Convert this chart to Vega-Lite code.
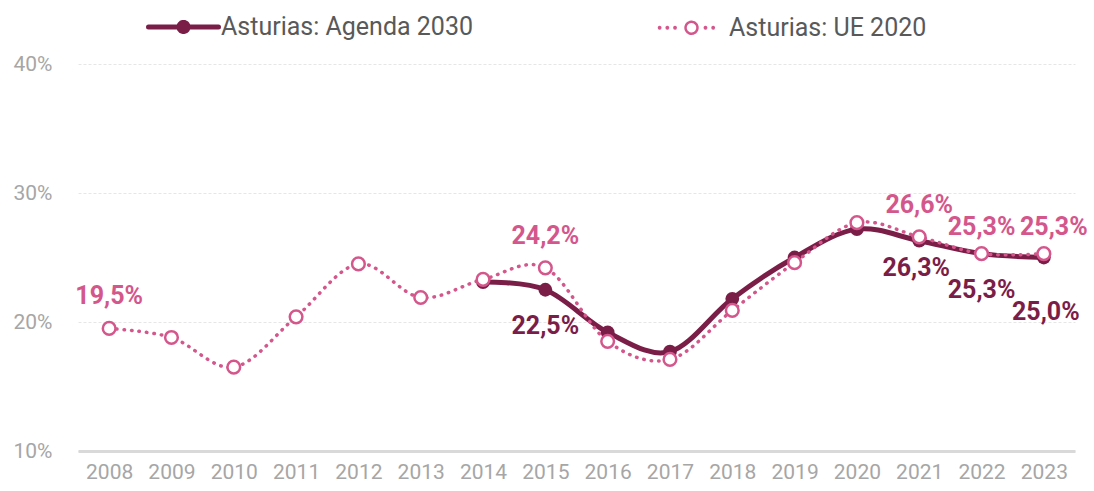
{
  "$schema": "https://vega.github.io/schema/vega-lite/v6.json",
  "width": 997,
  "height": 387,
  "autosize": {"type": "none"},
  "padding": {"left": 78, "top": 64, "right": 19, "bottom": 40},
  "background": "white",
  "config": {
    "locale": {"number": {"decimal": ",", "thousands": ".", "grouping": [3], "currency": ["", " €"]}},
    "view": {"stroke": null},
    "font": "Roboto"
  },
  "data": {"values": [
    {"year": "2008", "series": "Asturias: UE 2020", "value": 0.195},
    {"year": "2009", "series": "Asturias: UE 2020", "value": 0.188},
    {"year": "2010", "series": "Asturias: UE 2020", "value": 0.165},
    {"year": "2011", "series": "Asturias: UE 2020", "value": 0.204},
    {"year": "2012", "series": "Asturias: UE 2020", "value": 0.245},
    {"year": "2013", "series": "Asturias: UE 2020", "value": 0.219},
    {"year": "2014", "series": "Asturias: UE 2020", "value": 0.233},
    {"year": "2015", "series": "Asturias: UE 2020", "value": 0.242},
    {"year": "2016", "series": "Asturias: UE 2020", "value": 0.185},
    {"year": "2017", "series": "Asturias: UE 2020", "value": 0.171},
    {"year": "2018", "series": "Asturias: UE 2020", "value": 0.209},
    {"year": "2019", "series": "Asturias: UE 2020", "value": 0.246},
    {"year": "2020", "series": "Asturias: UE 2020", "value": 0.277},
    {"year": "2021", "series": "Asturias: UE 2020", "value": 0.266},
    {"year": "2022", "series": "Asturias: UE 2020", "value": 0.253},
    {"year": "2023", "series": "Asturias: UE 2020", "value": 0.253},
    {"year": "2014", "series": "Asturias: Agenda 2030", "value": 0.231},
    {"year": "2015", "series": "Asturias: Agenda 2030", "value": 0.225},
    {"year": "2016", "series": "Asturias: Agenda 2030", "value": 0.192},
    {"year": "2017", "series": "Asturias: Agenda 2030", "value": 0.177},
    {"year": "2018", "series": "Asturias: Agenda 2030", "value": 0.218},
    {"year": "2019", "series": "Asturias: Agenda 2030", "value": 0.250},
    {"year": "2020", "series": "Asturias: Agenda 2030", "value": 0.272},
    {"year": "2021", "series": "Asturias: Agenda 2030", "value": 0.263},
    {"year": "2022", "series": "Asturias: Agenda 2030", "value": 0.253},
    {"year": "2023", "series": "Asturias: Agenda 2030", "value": 0.250}
  ]},
  "encoding": {
    "x": {
      "field": "year", "type": "ordinal",
      "scale": {"type": "point", "padding": 0.5},
      "axis": {"title": null, "labelAngle": 0, "labelFontSize": 21, "labelColor": "#A6A6A6", "ticks": false, "domainColor": "#D9D9D9", "domainWidth": 3, "labelPadding": 10, "grid": false}
    },
    "y": {
      "field": "value", "type": "quantitative",
      "scale": {"domain": [0.1, 0.4]},
      "axis": {"title": null, "format": ".0%", "values": [0.1, 0.2, 0.3, 0.4], "domain": false, "ticks": false, "labelPadding": 26, "labelFontSize": 21, "labelColor": "#A6A6A6", "gridColor": "#E6E6E6", "gridDash": [3, 2]}
    }
  },
  "layer": [
    {
      "transform": [{"filter": "datum.series === 'Asturias: Agenda 2030'"}],
      "mark": {"type": "line", "interpolate": "cardinal", "strokeWidth": 5, "strokeCap": "round"},
      "encoding": {
        "stroke": {
          "field": "series", "type": "nominal",
          "scale": {"domain": ["Asturias: Agenda 2030", "Asturias: UE 2020"], "range": ["#7A1E48", "#D4578C"]},
          "legend": {
            "orient": "none", "legendX": 93, "legendY": -50, "direction": "horizontal", "title": null,
            "symbolType": "M-1,0H1", "symbolSize": 4900, "labelFontSize": 25, "labelColor": "#595959", "labelLimit": 0,
            "labelOffset": 25, "columnPadding": 180, "padding": 0,
            "encode": {"symbols": {"update": {
              "shape": {"signal": "datum.value === 'Asturias: UE 2020' ? 'M-0.93,0a0.02,0.02 0 1,0 0.04,0a0.02,0.02 0 1,0 -0.04,0ZM-0.71,0a0.02,0.02 0 1,0 0.04,0a0.02,0.02 0 1,0 -0.04,0ZM-0.49,0a0.02,0.02 0 1,0 0.04,0a0.02,0.02 0 1,0 -0.04,0ZM0.38,0a0.02,0.02 0 1,0 0.04,0a0.02,0.02 0 1,0 -0.04,0ZM0.6,0a0.02,0.02 0 1,0 0.04,0a0.02,0.02 0 1,0 -0.04,0ZM0.17,0A0.17,0.17 0 1,1 -0.17,0A0.17,0.17 0 1,1 0.17,0Z' : 'M-1,0H1M0.13,0A0.13,0.13 0 1,1 -0.13,0A0.13,0.13 0 1,1 0.13,0Z'"},
              "fill": {"signal": "datum.value === 'Asturias: UE 2020' ? '#FFFFFF' : '#7A1E48'"},
              "fillOpacity": {"value": 1},
              "strokeWidth": {"signal": "datum.value === 'Asturias: UE 2020' ? 2.5 : 5"},
              "strokeDash": {"value": [1, 0]},
              "strokeCap": {"value": "round"}
            }}}
          }
        }
      }
    },
    {
      "transform": [{"filter": "datum.series === 'Asturias: Agenda 2030'"}],
      "mark": {"type": "point", "filled": true, "size": 190, "opacity": 1},
      "encoding": {
        "fill": {
          "field": "series", "type": "nominal",
          "scale": {"domain": ["Asturias: Agenda 2030", "Asturias: UE 2020"], "range": ["#7A1E48", "#FFFFFF"]},
          "legend": null
        }
      }
    },
    {
      "transform": [{"filter": "datum.series === 'Asturias: UE 2020'"}],
      "mark": {"type": "line", "interpolate": "cardinal", "strokeWidth": 3.5, "strokeCap": "round", "strokeDash": [0.5, 7]},
      "encoding": {"stroke": {"field": "series", "type": "nominal"}}
    },
    {
      "transform": [{"filter": "datum.series === 'Asturias: UE 2020'"}],
      "mark": {"type": "point", "filled": true, "size": 160, "opacity": 1, "stroke": "#D4578C", "strokeWidth": 2.5},
      "encoding": {"fill": {"field": "series", "type": "nominal"}}
    },
    {
      "transform": [{"filter": "datum.series === 'Asturias: UE 2020' && indexof(['2008','2015','2021'], datum.year) >= 0"}],
      "mark": {"type": "text", "fontWeight": "bold", "fontSize": 25, "color": "#D4578C", "dy": -32},
      "encoding": {"text": {"field": "value", "type": "quantitative", "format": ".1%"}}
    },
    {
      "transform": [{"filter": "datum.series === 'Asturias: UE 2020' && datum.year === '2022'"}],
      "mark": {"type": "text", "fontWeight": "bold", "fontSize": 25, "color": "#D4578C", "dy": -27},
      "encoding": {"text": {"field": "value", "type": "quantitative", "format": ".1%"}}
    },
    {
      "transform": [{"filter": "datum.series === 'Asturias: UE 2020' && datum.year === '2023'"}],
      "mark": {"type": "text", "fontWeight": "bold", "fontSize": 25, "color": "#D4578C", "dy": -27, "dx": 10},
      "encoding": {"text": {"field": "value", "type": "quantitative", "format": ".1%"}}
    },
    {
      "transform": [{"filter": "datum.series === 'Asturias: Agenda 2030' && indexof(['2015','2022'], datum.year) >= 0"}],
      "mark": {"type": "text", "fontWeight": "bold", "fontSize": 25, "color": "#7A1E48", "dy": 36},
      "encoding": {"text": {"field": "value", "type": "quantitative", "format": ".1%"}}
    },
    {
      "transform": [{"filter": "datum.series === 'Asturias: Agenda 2030' && datum.year === '2021'"}],
      "mark": {"type": "text", "fontWeight": "bold", "fontSize": 25, "color": "#7A1E48", "dy": 27, "dx": -3},
      "encoding": {"text": {"field": "value", "type": "quantitative", "format": ".1%"}}
    },
    {
      "transform": [{"filter": "datum.series === 'Asturias: Agenda 2030' && datum.year === '2023'"}],
      "mark": {"type": "text", "fontWeight": "bold", "fontSize": 25, "color": "#7A1E48", "dy": 54, "dx": 2},
      "encoding": {"text": {"field": "value", "type": "quantitative", "format": ".1%"}}
    }
  ]
}
